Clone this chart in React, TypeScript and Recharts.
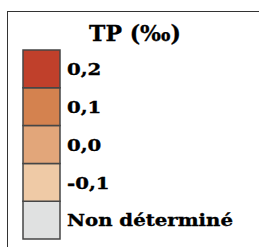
import { BarChart, Bar, XAxis, YAxis, LabelList } from "recharts"

// legend classes, top to bottom
const categories = ["0,2", "0,1", "0,0", "-0,1", "Non déterminé"]
const colors = ["#c0402b", "#d4824f", "#e2a67a", "#efcaa6", "#e0e1e1"]
// every class gets one equal cell in the stacked column
const cellSize = [1, 1, 1, 1, 1]
const title = "TP (‰)"

const FONT = "'DejaVu Serif', serif"

// stack from the bottom up, so reverse the order
const keys = categories.map((_, i) => `c${i}`)
const row: Record<string, number | string> = { name: "legend" }
keys.forEach((k, i) => {
  row[k] = cellSize[i]
})
const chartData = [row]
const stackOrder = keys.map((_, i) => i).reverse()

function SideLabel(props: any) {
  const { x, y, width, height, value } = props
  const tx = x + width + 7
  const ty = y + height / 2 + 6.3
  return (
    <text
      transform={`translate(${tx},${ty}) scale(1.16,1)`}
      fontFamily={FONT}
      fontWeight="bold"
      fontSize={17}
      fill="#000"
      stroke="#000"
      strokeWidth={0.35}
    >
      {value}
    </text>
  )
}

export default function App() {
  return (
    <div
      style={{
        position: "absolute",
        left: 0,
        top: 0,
        width: 259,
        height: 247,
        overflow: "hidden",
        background: "#fff",
      }}
    >
      <div
        style={{
          position: "absolute",
          left: 7,
          top: 11,
          width: 320,
          height: 320,
          border: "1.6px solid #333",
        }}
      />
      <svg
        width={259}
        height={247}
        style={{ position: "absolute", left: 0, top: 0 }}
      >
        <text
          x={135}
          y={40.5}
          textAnchor="middle"
          fontFamily={FONT}
          fontWeight="bold"
          fontSize={22}
          fill="#000"
          stroke="#000"
          strokeWidth={0.3}
        >
          {title}
        </text>
      </svg>
      <div style={{ position: "absolute", left: 0, top: 0 }}>
        <BarChart
          width={259}
          height={247}
          data={chartData}
          margin={{ top: 50, left: 23, right: 199, bottom: 8 }}
          barCategoryGap={0}
          barGap={0}
        >
          <XAxis dataKey="name" hide />
          <YAxis hide domain={[0, cellSize.reduce((a, b) => a + b, 0)]} />
          {stackOrder.map((i) => (
            <Bar
              key={keys[i]}
              dataKey={keys[i]}
              stackId="legend"
              fill={colors[i]}
              stroke="#464646"
              strokeWidth={1.5}
              isAnimationActive={false}
            >
              <LabelList
                dataKey={() => categories[i]}
                content={<SideLabel />}
              />
            </Bar>
          ))}
        </BarChart>
      </div>
    </div>
  )
}
